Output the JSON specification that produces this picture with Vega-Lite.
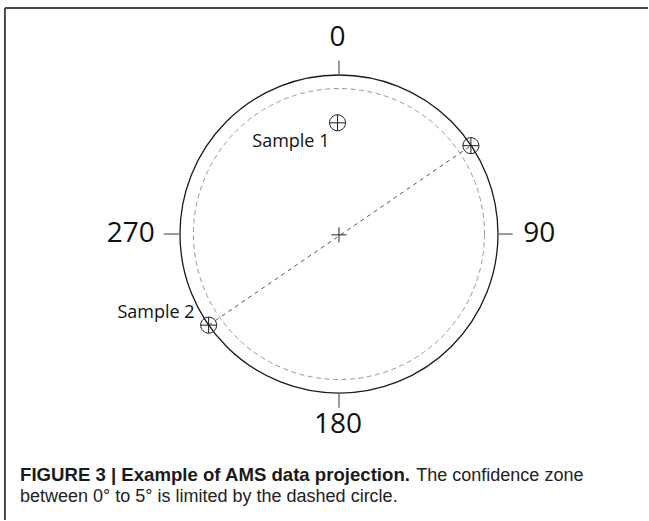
{
  "$schema": "https://vega.github.io/schema/vega-lite/v6.json",
  "width": 649,
  "height": 521,
  "autosize": {"type": "fit", "contains": "padding"},
  "padding": 0,
  "background": "white",
  "config": {"view": {"stroke": null}, "axis": {"disable": true}},
  "datasets": {
    "frame": [
      {"part": "top", "x": -2.104, "y": 1.4245, "x2": 1.9465, "y2": 1.4245},
      {"part": "left", "x": -2.104, "y": 1.4245, "x2": -2.104, "y2": -1.8019}
    ],
    "primitive": [{"circle": "primitive", "x": 0, "y": 0}],
    "zone": [{"circle": "confidence zone 5°", "x": 0, "y": 0}],
    "diameter": [
      {"end": "Sample 2", "x": -0.821, "y": -0.574},
      {"end": "Sample 2 antipode", "x": 0.831, "y": 0.557}
    ],
    "ticks": [
      {"azimuth": 0, "x": 0, "y": 1.0, "x2": 0, "y2": 1.094},
      {"azimuth": 90, "x": 1.0, "y": 0, "x2": 1.094, "y2": 0},
      {"azimuth": 180, "x": 0, "y": -1.0, "x2": 0, "y2": -1.094},
      {"azimuth": 270, "x": -1.0, "y": 0, "x2": -1.104, "y2": 0}
    ],
    "centre": [{"x": 0, "y": -0.005}],
    "markers": [
      {"sample": "Sample 1", "x": -0.009, "y": 0.701},
      {"sample": "Sample 2", "x": -0.821, "y": -0.574},
      {"sample": "Sample 2 antipode", "x": 0.831, "y": 0.557}
    ],
    "labelsCentre": [
      {"text": "0", "x": -0.01, "y": 1.236},
      {"text": "180", "x": -0.006, "y": -1.204}
    ],
    "labelsRight": [{"text": "270", "x": -1.16, "y": 0}],
    "labelsLeft": [{"text": "90", "x": 1.16, "y": 0}],
    "sampleLabels": [
      {"text": "Sample 1", "x": -0.06, "y": 0.55},
      {"text": "Sample 2", "x": -0.909, "y": -0.531}
    ],
    "captionBold": [{"text": "FIGURE 3 | Example of AMS data projection.", "x": -2.009, "y": -1.557}],
    "captionRegular": [
      {"text": "The confidence zone", "x": 0.487, "y": -1.557},
      {"text": "between 0° to 5° is limited by the dashed circle.", "x": -2.009, "y": -1.689}
    ]
  },
  "data": {"name": "frame"},
  "encoding": {
    "x": {"field": "x", "type": "quantitative", "axis": null, "scale": {"domain": [-2.1352, 1.9465], "nice": false, "zero": false}},
    "y": {"field": "y", "type": "quantitative", "axis": null, "scale": {"domain": [-1.8019, 1.4748], "nice": false, "zero": false}}
  },
  "layer": [
    {
      "data": {"name": "frame"},
      "mark": {"type": "rule", "color": "#4a4a4a", "strokeWidth": 2},
      "encoding": {"x2": {"field": "x2"}, "y2": {"field": "y2"}}
    },
    {
      "data": {"name": "zone"},
      "mark": {"type": "point", "shape": "circle", "filled": false, "size": 84681, "stroke": "#999999", "strokeWidth": 1, "strokeDash": [5, 3.5], "opacity": 1}
    },
    {
      "data": {"name": "primitive"},
      "mark": {"type": "point", "shape": "circle", "filled": false, "size": 101124, "stroke": "#1a1a1a", "strokeWidth": 1.3, "opacity": 1}
    },
    {
      "data": {"name": "diameter"},
      "mark": {"type": "line", "color": "#555555", "strokeWidth": 1, "strokeDash": [4, 4]}
    },
    {
      "data": {"name": "ticks"},
      "mark": {"type": "rule", "color": "#666666", "strokeWidth": 1.3},
      "encoding": {"x2": {"field": "x2"}, "y2": {"field": "y2"}}
    },
    {
      "data": {"name": "centre"},
      "mark": {"type": "point", "shape": "M-1,0L1,0M0,-1L0,1", "filled": false, "size": 230, "stroke": "#222222", "strokeWidth": 1, "opacity": 1}
    },
    {
      "data": {"name": "markers"},
      "mark": {"type": "point", "shape": "M-1,0A1,1,0,1,1,1,0A1,1,0,1,1,-1,0ZM-1,0L1,0M0,-1L0,1", "filled": false, "size": 256, "stroke": "#1a1a1a", "strokeWidth": 1, "opacity": 1}
    },
    {
      "data": {"name": "labelsCentre"},
      "mark": {"type": "text", "align": "center", "baseline": "middle", "font": "Open Sans", "fontSize": 28, "color": "#111111"},
      "encoding": {"text": {"field": "text"}}
    },
    {
      "data": {"name": "labelsRight"},
      "mark": {"type": "text", "align": "right", "baseline": "middle", "font": "Open Sans", "fontSize": 28, "color": "#111111"},
      "encoding": {"text": {"field": "text"}}
    },
    {
      "data": {"name": "labelsLeft"},
      "mark": {"type": "text", "align": "left", "baseline": "middle", "font": "Open Sans", "fontSize": 28, "color": "#111111"},
      "encoding": {"text": {"field": "text"}}
    },
    {
      "data": {"name": "sampleLabels"},
      "mark": {"type": "text", "align": "right", "baseline": "alphabetic", "font": "Open Sans", "fontSize": 18, "color": "#111111"},
      "encoding": {"text": {"field": "text"}}
    },
    {
      "data": {"name": "captionBold"},
      "mark": {"type": "text", "align": "left", "baseline": "alphabetic", "font": "Liberation Sans", "fontSize": 18.6, "fontWeight": "bold", "color": "#1a1a1a"},
      "encoding": {"text": {"field": "text"}}
    },
    {
      "data": {"name": "captionRegular"},
      "mark": {"type": "text", "align": "left", "baseline": "alphabetic", "font": "Liberation Sans", "fontSize": 18, "color": "#222222"},
      "encoding": {"text": {"field": "text"}}
    }
  ]
}
